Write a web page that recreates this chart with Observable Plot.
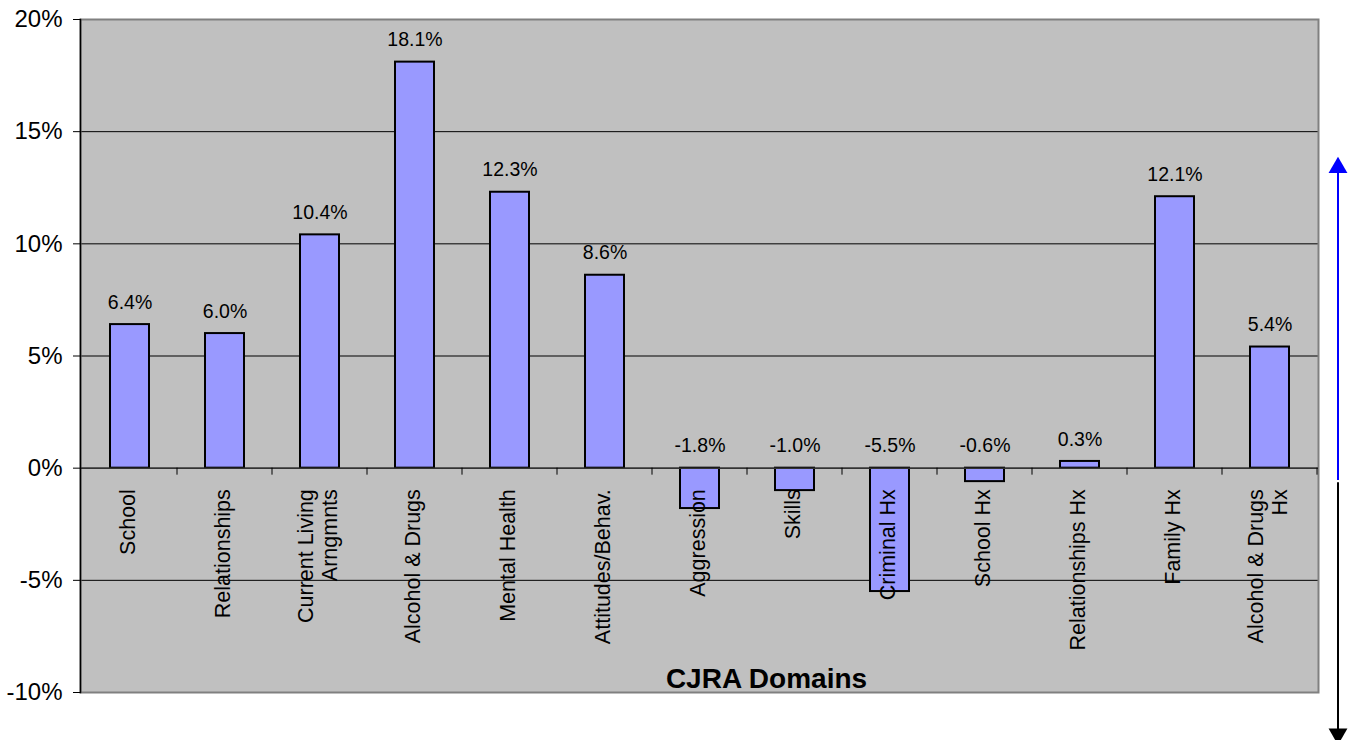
<!DOCTYPE html>
<html>
<head>
<meta charset="utf-8">
<script src="https://cdn.jsdelivr.net/npm/d3@7"></script>
<script src="https://cdn.jsdelivr.net/npm/@observablehq/plot@0.6"></script>
<style>
  html, body { margin: 0; padding: 0; background: #ffffff; }
  #chart svg { display: block; }
</style>
</head>
<body>
<div id="chart"></div>
<script>
const categories = ["School", "Relationships", "Current Living Arngmnts", "Alcohol & Drugs", "Mental Health", "Attitudes/Behav.", "Aggression", "Skills", "Criminal Hx", "School Hx", "Relationships Hx", "Family Hx", "Alcohol & Drugs Hx"];
const axisLabels = ["School", "Relationships", "Current Living\nArngmnts", "Alcohol & Drugs", "Mental Health", "Attitudes/Behav.", "Aggression", "Skills", "Criminal Hx", "School Hx", "Relationships Hx", "Family Hx", "Alcohol & Drugs\nHx"];
const values = [6.4, 6.0, 10.4, 18.1, 12.3, 8.6, -1.8, -1.0, -5.5, -0.6, 0.3, 12.1, 5.4];
const yTicks = [-10, -5, 0, 5, 10, 15, 20];
const xTitle = "CJRA Domains";
// annotation arrows (values in % on the y scale)
const upArrow = {from: -0.55, to: 13.4};
const downArrow = {from: -0.65, to: -11.85};

const data = categories.map((c, i) => ({cat: c, label: axisLabels[i], value: values[i], text: values[i].toFixed(1) + "%"}));
const lastCat = categories[categories.length - 1];

function categoryTicks(index, scales, values, dims, context) {
  const x = scales.x, y = scales.y;
  const bw = typeof x.bandwidth === "function" ? x.bandwidth() : 0;
  const step = typeof x.step === "function" ? x.step() : 0;
  const g = d3.create("svg:g");
  const y0 = y(0);
  categories.forEach((c) => {
    const b = x(c) + bw / 2 + step / 2;
    g.append("line").attr("x1", b).attr("x2", b).attr("y1", y0).attr("y2", y0 + 7)
      .attr("stroke", "black").attr("stroke-width", 1);
  });
  return g.node();
}

const chart = Plot.plot({
  width: 1351,
  height: 740,
  marginLeft: 80,
  marginRight: 33,
  marginTop: 19,
  marginBottom: 48,
  style: {fontFamily: "'Liberation Sans', Arial, sans-serif", background: "#ffffff", color: "black", overflow: "visible"},
  x: {domain: categories, paddingInner: 0.59, paddingOuter: 0.295, axis: null},
  y: {domain: [-10, 20], axis: null, label: null},
  marks: [
    Plot.frame({fill: "#c0c0c0", stroke: "none"}),
    Plot.ruleY(yTicks, {stroke: "black", strokeWidth: 1}),
    Plot.frame({stroke: "#808080", strokeWidth: 2}),
    Plot.barY(data, {x: "cat", y: "value", fill: "#9999ff", stroke: "black", strokeWidth: 2}),
    Plot.ruleY([0], {stroke: "#333333", strokeWidth: 1.5}),
    categoryTicks,
    Plot.frame({anchor: "left", stroke: "black", strokeWidth: 1.5}),
    Plot.axisY({ticks: yTicks, tickFormat: d => d + "%", tickSize: 7, tickPadding: 11, fontSize: 24, stroke: "black", label: null}),
    Plot.text(data, {x: "cat", y: d => Math.max(d.value, 0), text: "text", dy: -22, fontSize: 19.5, fill: "black"}),
    Plot.text(data, {x: "cat", y: 0, text: "label", rotate: -90, textAnchor: "end", dy: 21, dx: -3, fontSize: 21.5, lineHeight: 1.12, fill: "black"}),
    Plot.text([xTitle], {frameAnchor: "bottom", dy: -5, dx: 67, fontSize: 28, fontWeight: "bold", fill: "black"}),
    Plot.ruleX([lastCat], {y1: upArrow.from, y2: upArrow.to, dx: 68, stroke: "blue", strokeWidth: 2}),
    Plot.dot([lastCat], {x: d => d, y: upArrow.to, dx: 68, symbol: "triangle", r: 7, fill: "blue", stroke: "none"}),
    Plot.ruleX([lastCat], {y1: downArrow.from, y2: downArrow.to, dx: 68, stroke: "black", strokeWidth: 2}),
    Plot.dot([lastCat], {x: d => d, y: downArrow.to, dx: 68, symbol: "triangle", r: 7, rotate: 180, fill: "black", stroke: "none"})
  ]
});
document.getElementById("chart").appendChild(chart);
</script>
</body>
</html>
